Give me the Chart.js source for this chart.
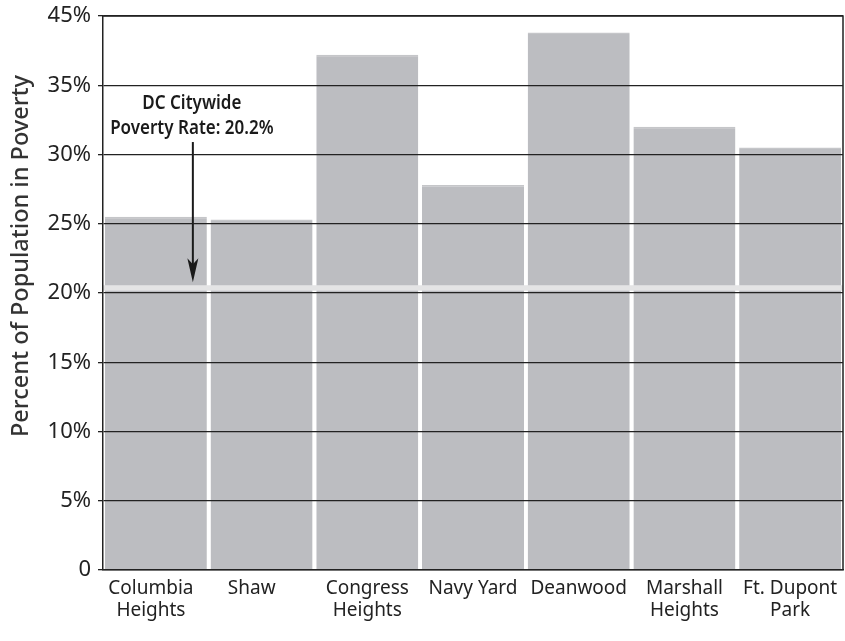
<!DOCTYPE html>
<html>
<head>
<meta charset="utf-8">
<script src="https://cdn.jsdelivr.net/npm/chart.js@4"></script>
<style>
  html, body { margin: 0; padding: 0; background: #fff; }
  #wrap { width: 845px; height: 641px; }
</style>
</head>
<body>
<div id="wrap"><canvas id="c" width="845" height="641"></canvas></div>
<script>
// Neighborhood poverty rates (percent of population)
const neighborhoods = [
  ['Columbia  ', 'Heights  '],
  'Shaw    ',
  ['Congress', 'Heights'],
  'Navy Yard',
  'Deanwood',
  ['Marshall', 'Heights'],
  ['Ft. Dupont', 'Park']
];
const povertyRates = [25.5, 25.3, 37.2, 27.8, 38.8, 32.0, 30.5];

// Citywide reference rate
const citywideRate = 20.2;
const citywideText = ['DC Citywide', 'Poverty Rate: 20.2%'];

// Y axis tick values, the labels printed beside them, and the axis title
const yTickValues = [0, 5, 10, 15, 20, 25, 30, 35, 40];
const yTickLabels = ['0', '5%', '10%', '15%', '20%', '25%', '30%', '35%', '45%'];
const yAxisTitle = 'Percent of Population in Poverty';

const FONT = "'Noto Sans', 'Open Sans', sans-serif";

// Light band marking the citywide rate, plus the callout, axis title and frame
const citywidePlugin = {
  id: 'citywide',
  afterDatasetsDraw(chart) {
    const { ctx, chartArea: a, scales: { x, y } } = chart;
    const yl = y.getPixelForValue(citywideRate);
    ctx.save();
    ctx.fillStyle = '#e4e4e5';
    ctx.fillRect(a.left, yl - 5, a.right - a.left, 5.5);

    // callout text (drawn slightly condensed)
    const cw = (a.right - a.left) / neighborhoods.length;
    const ax = x.getPixelForValue(0) + cw * 0.35;
    ctx.fillStyle = '#1a1a1a';
    ctx.font = "600 20px " + FONT;
    ctx.textAlign = 'center';
    ctx.textBaseline = 'middle';
    const sx = 0.85;
    [33.7, 31.9].forEach((v, i) => {
      ctx.save();
      ctx.translate(ax - 1, y.getPixelForValue(v));
      ctx.scale(sx, 1);
      ctx.fillText(citywideText[i], 0, 0);
      ctx.restore();
    });

    // arrow down to the citywide band
    const y0 = y.getPixelForValue(30.9);
    const y1 = yl - 8;
    ctx.strokeStyle = '#1a1a1a';
    ctx.lineWidth = 2;
    ctx.beginPath();
    ctx.moveTo(ax, y0);
    ctx.lineTo(ax, y1 - 14);
    ctx.stroke();
    ctx.beginPath();
    ctx.moveTo(ax - 5.5, y1 - 24);
    ctx.lineTo(ax, y1 - 18);
    ctx.lineTo(ax + 5.5, y1 - 24);
    ctx.lineTo(ax, y1);
    ctx.closePath();
    ctx.fill();
    ctx.restore();
  },
  afterDraw(chart) {
    const { ctx, chartArea: a } = chart;
    ctx.save();
    ctx.strokeStyle = '#222';
    ctx.lineWidth = 1.5;
    ctx.beginPath();
    ctx.moveTo(a.left, a.top);
    ctx.lineTo(a.right, a.top);
    ctx.lineTo(a.right, a.bottom);
    ctx.stroke();

    // rotated y axis title, set a little above the middle of the axis
    ctx.translate(21, (a.top + a.bottom) / 2 - 37);
    ctx.rotate(-Math.PI / 2);
    ctx.fillStyle = '#333';
    ctx.font = "500 23.5px " + FONT;
    ctx.textAlign = 'center';
    ctx.textBaseline = 'middle';
    ctx.fillText(yAxisTitle, 0, 0);
    ctx.restore();
  }
};

new Chart(document.getElementById('c'), {
  type: 'bar',
  data: {
    labels: neighborhoods,
    datasets: [{
      data: povertyRates,
      backgroundColor: '#bcbdc1',
      borderColor: '#c5c6c9',
      borderWidth: { top: 1.5, left: 0, right: 0, bottom: 0 },
      borderSkipped: 'bottom',
      barPercentage: 0.965,
      categoryPercentage: 1.0
    }]
  },
  plugins: [citywidePlugin],
  options: {
    responsive: false,
    animation: false,
    devicePixelRatio: 1,
    layout: { padding: { top: 16, right: 2, left: 0, bottom: 0 } },
    plugins: {
      legend: { display: false },
      tooltip: { enabled: false }
    },
    scales: {
      x: {
        grid: { display: false, drawTicks: false },
        border: { display: true, color: '#222', width: 1.5, z: 1 },
        ticks: {
          color: '#222',
          font: { family: FONT, size: 19, lineHeight: 1.15 },
          padding: 8,
          maxRotation: 0,
          autoSkip: false
        },
        afterFit(scale) {
          scale.height = 71;
          scale.paddingLeft = 0;
          scale.paddingRight = 0;
        }
      },
      y: {
        min: 0,
        max: 40,
        afterBuildTicks(scale) {
          scale.ticks = yTickValues.map(v => ({ value: v }));
        },
        grid: {
          color: '#222',
          lineWidth: 1.3,
          tickLength: 5,
          drawTicks: true,
          z: 1
        },
        border: { display: true, color: '#222', width: 1.5, z: 1 },
        ticks: {
          color: '#222',
          font: { family: FONT, size: 22 },
          padding: 7,
          callback(value) {
            const i = yTickValues.indexOf(value);
            return i >= 0 ? yTickLabels[i] : '';
          }
        },
        title: { display: false },
        afterFit(scale) {
          scale.width = 103;
          scale.paddingTop = 0;
          scale.paddingBottom = 0;
        }
      }
    }
  }
});
</script>
</body>
</html>
